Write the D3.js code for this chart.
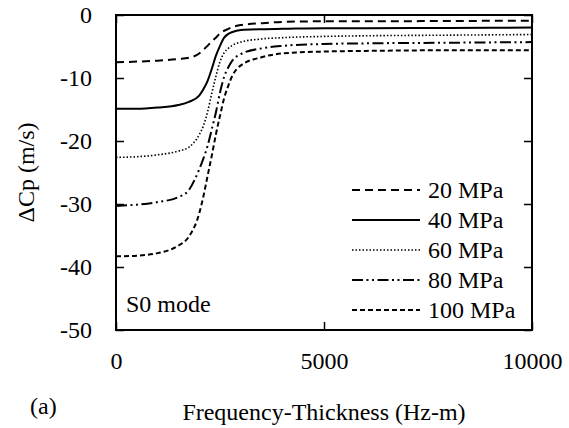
<!DOCTYPE html>
<html>
<head>
<meta charset="utf-8">
<script src="https://cdn.jsdelivr.net/npm/d3@7"></script>
<style>
  body { margin: 0; background: #fff; }
  svg text { font-family: "Liberation Serif", "Times New Roman", Times, "DejaVu Serif", serif; }
</style>
</head>
<body>
<div id="chart"></div>
<script>
// frequency-thickness values (Hz-m) where the curves were read
const freqThickness = [0, 500, 1000, 1500, 1750, 2000, 2100, 2200, 2300, 2400, 2500, 2600, 2700, 2800, 3000, 3500, 4000, 5000, 6000, 8000, 10000];

// change of phase velocity, m/s
const dCp20 = [-7.5, -7.4, -7.25, -7.0, -6.8, -6.1, -5.5, -4.9, -4.2, -3.6, -2.9, -2.5, -2.2, -1.9, -1.6, -1.3, -1.1, -1.0, -1.0, -0.95, -0.9];
const dCp40 = [-14.9, -14.9, -14.7, -14.3, -13.8, -12.8, -11.8, -10.5, -8.6, -6.5, -4.9, -3.6, -3.0, -2.7, -2.4, -2.25, -2.2, -2.1, -2.1, -2.05, -2.0];
const dCp60 = [-22.6, -22.5, -22.2, -21.6, -21.0, -19.0, -17.6, -15.4, -12.5, -9.8, -7.4, -6.0, -5.3, -4.8, -4.3, -3.8, -3.6, -3.4, -3.3, -3.2, -3.1];
const dCp80 = [-30.3, -30.1, -29.7, -28.9, -27.8, -24.5, -22.8, -20.8, -18.2, -15.5, -12.3, -9.8, -8.3, -7.2, -6.2, -5.3, -4.9, -4.6, -4.5, -4.4, -4.3];
const dCp100 = [-38.3, -38.2, -37.8, -36.6, -35.2, -31.5, -28.8, -25.6, -22.4, -19.0, -16.0, -13.2, -11.2, -9.6, -8.0, -6.7, -6.1, -5.8, -5.7, -5.6, -5.6];

const seriesNames = ["20 MPa", "40 MPa", "60 MPa", "80 MPa", "100 MPa"];
const seriesValues = [dCp20, dCp40, dCp60, dCp80, dCp100];

const xTicks = [0, 5000, 10000];
const yTicks = [0, -10, -20, -30, -40, -50];

const width = 569;
const height = 428;
const margin = { top: 15, right: 37, bottom: 98, left: 116 };
const innerW = width - margin.left - margin.right;
const innerH = height - margin.top - margin.bottom;

const dashes = ["8,5", null, "1.5,2", "11,3.5,2,3.5,2,3.5", "5,3"];
const widths = [2, 2, 1.6, 2, 2];
const serif = '"Liberation Serif", "Times New Roman", serif';

const svg = d3.select("#chart")
  .append("svg")
  .attr("width", width)
  .attr("height", height);

const g = svg.append("g").attr("transform", `translate(${margin.left},${margin.top})`);

const x = d3.scaleLinear().domain([0, 10000]).range([0, innerW]);
const y = d3.scaleLinear().domain([-50, 0]).range([innerH, 0]);

// axes, ticks pointing inward
const fmt = (d) => String(d);
const styleAxis = (a) => {
  a.attr("font-family", serif);
  a.select(".domain").remove();
  a.selectAll("line").attr("stroke-width", 1.5);
  a.selectAll("text").attr("font-size", 24).attr("fill", "#000");
};

g.append("g")
  .call(d3.axisLeft(y).tickValues(yTicks).tickSizeInner(-8).tickSizeOuter(0).tickPadding(24).tickFormat(fmt))
  .call(styleAxis);

g.append("g")
  .attr("transform", `translate(${innerW},0)`)
  .call(d3.axisRight(y).tickValues(yTicks).tickSizeInner(-8).tickSizeOuter(0).tickFormat(""))
  .call(styleAxis);

g.append("g")
  .attr("transform", `translate(0,${innerH})`)
  .call(d3.axisBottom(x).tickValues(xTicks).tickSizeInner(-8).tickSizeOuter(0).tickPadding(22).tickFormat(fmt))
  .call(styleAxis);

g.append("g")
  .call(d3.axisTop(x).tickValues(xTicks).tickSizeInner(-8).tickSizeOuter(0).tickFormat(""))
  .call(styleAxis);

const line = d3.line()
  .x((d) => x(d[0]))
  .y((d) => y(d[1]))
  .curve(d3.curveMonotoneX);

seriesValues.forEach((vals, i) => {
  g.append("path")
    .datum(freqThickness.map((f, j) => [f, vals[j]]))
    .attr("fill", "none")
    .attr("stroke", "#000")
    .attr("stroke-width", widths[i])
    .attr("stroke-dasharray", dashes[i])
    .attr("d", line);
});

// frame
g.append("rect")
  .attr("width", innerW)
  .attr("height", innerH)
  .attr("fill", "none")
  .attr("stroke", "#000")
  .attr("stroke-width", 2);

// legend
const legend = g.append("g").attr("transform", `translate(${innerW - 180},${innerH - 140})`);
seriesNames.forEach((name, i) => {
  const row = legend.append("g").attr("transform", `translate(0,${i * 30})`);
  row.append("line")
    .attr("x1", 0).attr("x2", 68)
    .attr("stroke", "#000")
    .attr("stroke-width", widths[i])
    .attr("stroke-dasharray", dashes[i]);
  row.append("text")
    .attr("x", 76)
    .attr("dy", "0.35em")
    .attr("font-family", serif)
    .attr("font-size", 24)
    .text(name);
});

g.append("text")
  .attr("x", 10)
  .attr("y", innerH - 18)
  .attr("font-family", serif)
  .attr("font-size", 24)
  .text("S0 mode");

// axis titles
svg.append("text")
  .attr("x", margin.left + innerW / 2)
  .attr("y", 420)
  .attr("text-anchor", "middle")
  .attr("font-family", serif)
  .attr("font-size", 24)
  .text("Frequency-Thickness (Hz-m)");

svg.append("text")
  .attr("x", 30)
  .attr("y", 414)
  .attr("font-family", serif)
  .attr("font-size", 24)
  .text("(a)");

svg.append("text")
  .attr("transform", `translate(34,${margin.top + innerH / 2}) rotate(-90)`)
  .attr("text-anchor", "middle")
  .attr("font-family", serif)
  .attr("font-size", 24)
  .text("ΔCp (m/s)");
</script>
</body>
</html>
